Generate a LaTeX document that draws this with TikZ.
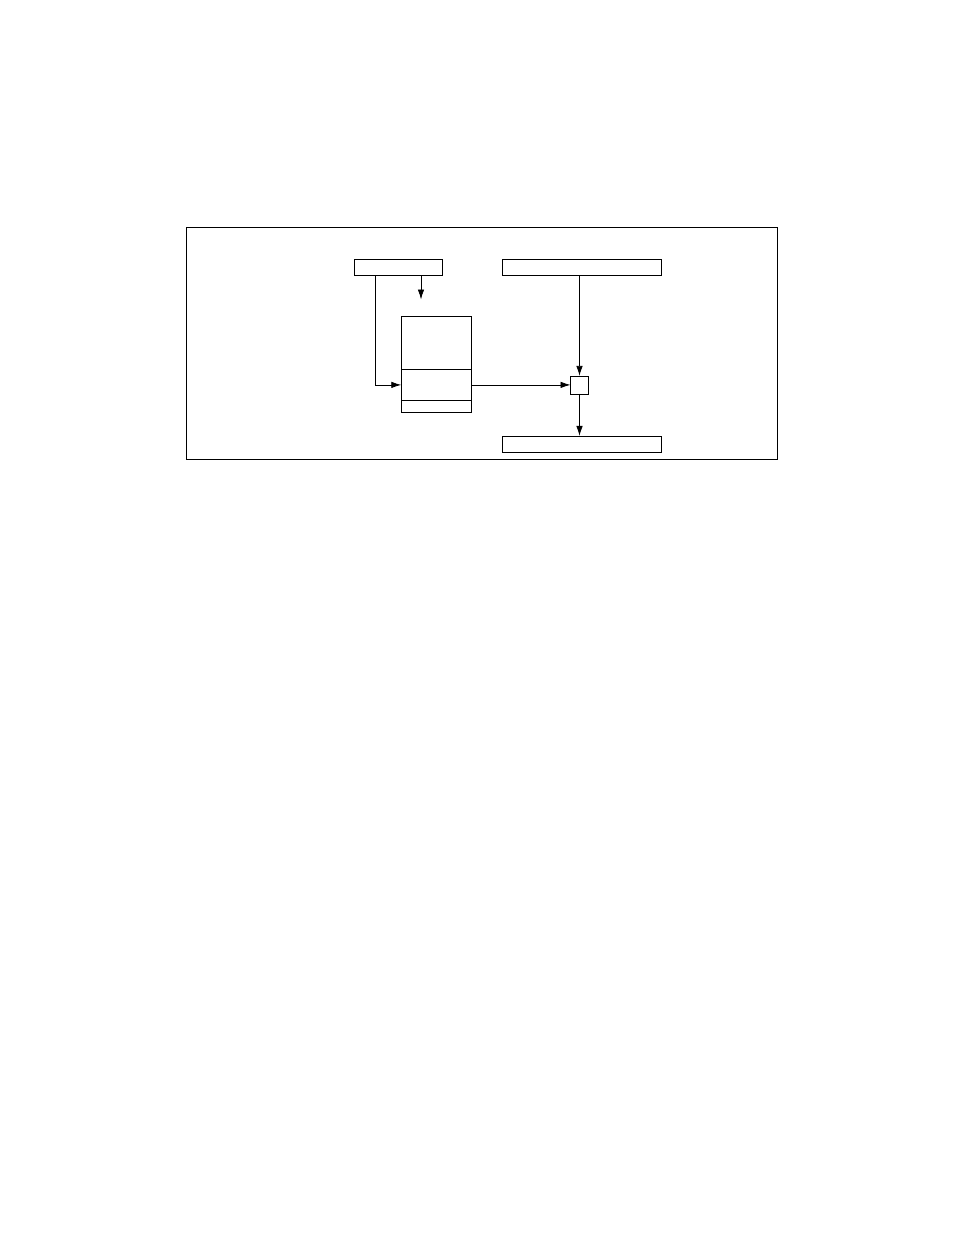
\documentclass[tikz,border=0pt]{standalone}
\usepackage{amsmath}
\usepackage{tikz}
\usetikzlibrary{calc,arrows.meta}

\tikzset{
  blk/.style={draw, line width=0.8pt, inner sep=0pt, outer sep=0pt},
  flow/.style={line width=0.8pt, -{Latex[length=10pt,width=6.5pt]}}
}

\begin{document}
\begin{tikzpicture}[x=1pt, y=-1pt]
            \useasboundingbox (0,0) rectangle (954,1235);
            \draw[line width=0.8pt] (186,227) rectangle (777,459);

            \node[blk, minimum width=88pt, minimum height=16pt] (srcA) at (398,267) {};
            \node[blk, minimum width=159.5pt, minimum height=16pt] (srcB) at (582,267) {};

            \node[blk, minimum width=70.5pt, minimum height=53pt] (stkT) at (436.5,342.5) {};
            \node[blk, minimum width=70.5pt, minimum height=31.7pt] (stkM) at (436.5,384.9) {};
            \node[blk, minimum width=70.5pt, minimum height=11.6pt] (stkB) at (436.5,406.5) {};

            \node[blk, minimum width=18pt, minimum height=18pt] (op) at (579.5,384.9) {};
            \node[blk, minimum width=159.5pt, minimum height=16.7pt] (dest) at (582,444.3) {};

            \coordinate (tip) at (421,299.5);
            \coordinate (bend) at (375,385);
            \draw[flow] (srcA.south -| tip) -- (tip);
            \draw[flow] (srcA.south -| bend) |- (stkM.west);
            \draw[flow] (stkM.east) -- (op.west);
            \draw[flow] (srcB.south -| op.north) -- (op.north);
            \draw[flow] (op.south) -- (dest.north -| op.south);
        \end{tikzpicture}
\end{document}
